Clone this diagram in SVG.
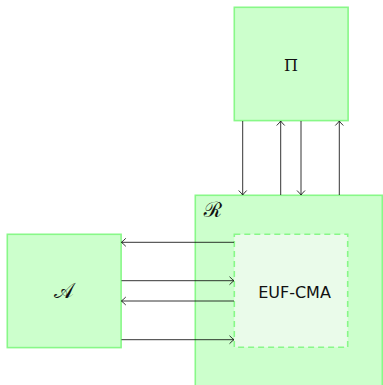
<svg xmlns="http://www.w3.org/2000/svg" width="383" height="385" viewBox="0 0 383 385">
<style>
.box{fill:#ccffcc;stroke:#88f888;stroke-width:1.6}
.inner{fill:#eafbea;stroke:#88f888;stroke-width:1.6;stroke-dasharray:6 4}
.ar{stroke:#000;stroke-width:0.8;fill:none;marker-end:url(#h)}
.math{font-family:"DejaVu Serif","Liberation Serif",serif;font-size:16px;fill:#111}
.cal{font-family:"DejaVu Serif","Noto Sans",serif;font-size:21px;fill:#111}
.lbl{font-family:"DejaVu Sans",sans-serif;font-size:16px;fill:#111}
</style>
<defs>
<marker id="h" viewBox="-6 -6 8 12" markerWidth="8" markerHeight="12" refX="0" refY="0" orient="auto" markerUnits="userSpaceOnUse">
<path d="M-4,-4 Q-1,-1 0.5,0 Q-1,1 -4,4" fill="none" stroke="#000" stroke-width="0.8"/>
</marker>
</defs>
<g id="R">
<rect class="box" x="195.3" y="195.3" width="187" height="192"/>
<text class="cal" x="213" y="217" text-anchor="middle">ℛ</text>
</g>
<g id="Pi">
<rect class="box" x="234.3" y="7.3" width="113.8" height="113.3"/>
<text class="math" x="291" y="70.5" text-anchor="middle">Π</text>
</g>
<g id="A">
<rect class="box" x="7.3" y="234.3" width="113.8" height="113.3"/>
<text class="cal" x="64" y="298" text-anchor="middle">𝒜</text>
</g>
<g id="EUF-CMA">
<rect class="inner" x="234.3" y="234.3" width="113.4" height="113"/>
<text class="lbl" x="294.5" y="297.7" text-anchor="middle">EUF-CMA</text>
</g>
<g id="connectors">
<line class="ar" x1="242.7" y1="121" x2="242.7" y2="194.5"/>
<line class="ar" x1="280.7" y1="195" x2="280.7" y2="121.5"/>
<line class="ar" x1="301" y1="121" x2="301" y2="194.5"/>
<line class="ar" x1="339.3" y1="195" x2="339.3" y2="121.5"/>
<line class="ar" x1="234" y1="242.3" x2="121.8" y2="242.3"/>
<line class="ar" x1="121.5" y1="280.7" x2="233.5" y2="280.7"/>
<line class="ar" x1="234" y1="301" x2="121.8" y2="301"/>
<line class="ar" x1="121.5" y1="339.7" x2="233.5" y2="339.7"/>
</g>
</svg>
